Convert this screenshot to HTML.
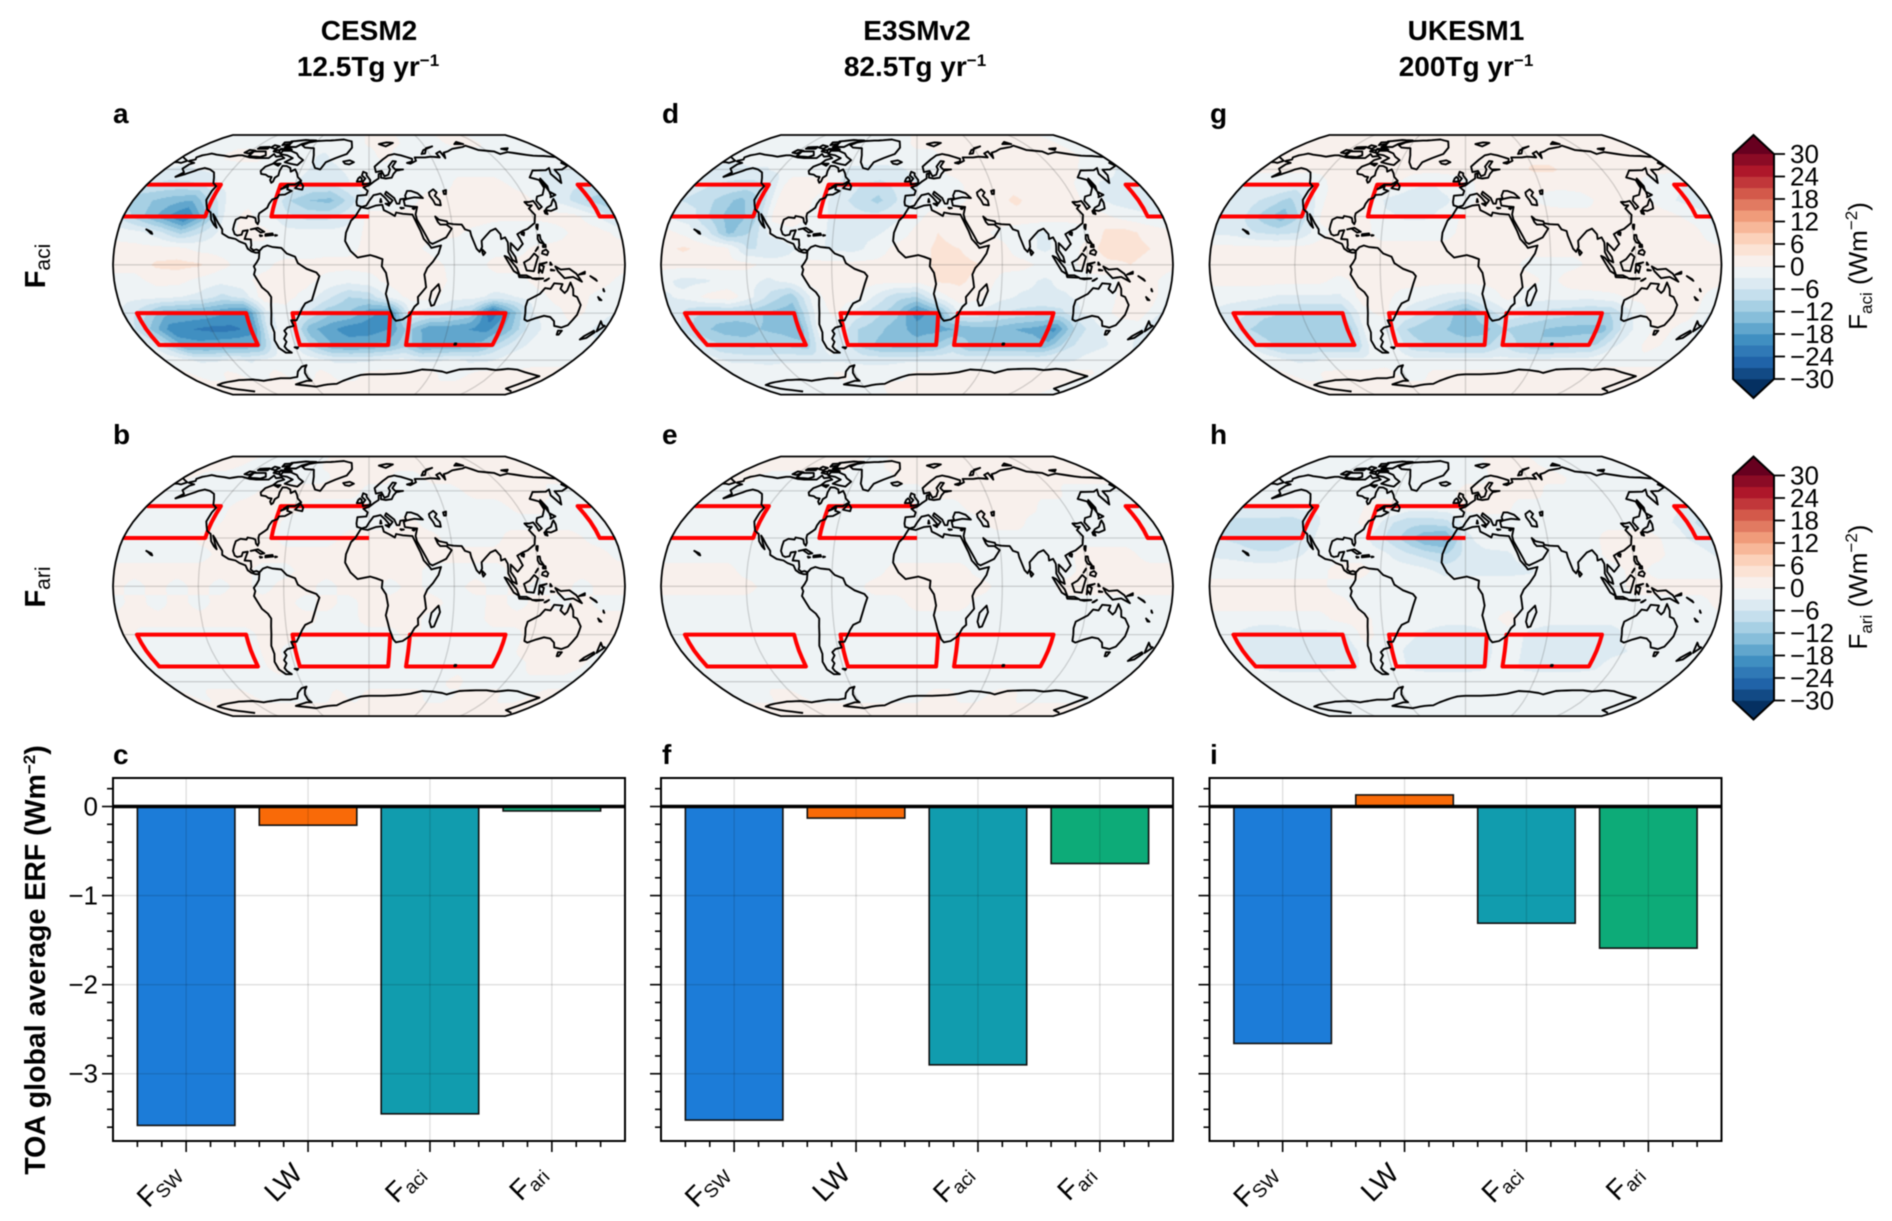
<!DOCTYPE html>
<html lang="en">
<head>
<meta charset="utf-8">
<title>ERF maps and global mean bars</title>
<style>
html,body{margin:0;padding:0;background:#fff;}
#figure{position:relative;width:1892px;height:1221px;overflow:hidden;background:#fff;filter:blur(0.45px);font-family:"Liberation Sans",sans-serif;}
#figure canvas{position:absolute;}
#plot{position:absolute;left:0;top:0;}
text{font-family:"Liberation Sans",sans-serif;fill:#000;}
.title{font-size:28px;font-weight:700;text-anchor:middle;}
.letter{font-size:28px;font-weight:700;}
.rowlab{font-size:29px;font-weight:700;text-anchor:middle;}
.tick{font-size:26px;}
.xlab{font-size:28px;}
.cb{font-size:26px;}
</style>
</head>
<body>
<div id="figure">
<svg id="plot" width="1892" height="1221" viewBox="0 0 1892 1221" xmlns="http://www.w3.org/2000/svg">
  <g>
    <text class="title" x="369" y="40">CESM2</text>
    <text class="title" x="368" y="76">12.5Tg yr<tspan dy="-10" font-size="17">−1</tspan></text>
    <text class="title" x="917" y="40">E3SMv2</text>
    <text class="title" x="915" y="76">82.5Tg yr<tspan dy="-10" font-size="17">−1</tspan></text>
    <text class="title" x="1466" y="40">UKESM1</text>
    <text class="title" x="1466" y="76">200Tg yr<tspan dy="-10" font-size="17">−1</tspan></text>
  </g>
  <g>
    <text class="rowlab" transform="translate(45,266) rotate(-90)">F<tspan dy="5" font-size="21" font-weight="400">aci</tspan></text>
    <text class="rowlab" transform="translate(45,587) rotate(-90)">F<tspan dy="5" font-size="21" font-weight="400">ari</tspan></text>
    <text class="rowlab" style="font-size:28.5px" transform="translate(45,960) rotate(-90)">TOA global average ERF (Wm<tspan dy="-10" font-size="17">−2</tspan><tspan dy="10">)</tspan></text>
  </g>
  <g>
    <text class="letter" x="113" y="123">a</text>
    <text class="letter" x="113" y="444">b</text>
    <text class="letter" x="113" y="764">c</text>
    <text class="letter" x="662" y="123">d</text>
    <text class="letter" x="662" y="444">e</text>
    <text class="letter" x="662" y="764">f</text>
    <text class="letter" x="1210" y="123">g</text>
    <text class="letter" x="1210" y="444">h</text>
    <text class="letter" x="1210" y="764">i</text>
  </g>
  <g>
    <text class="tick" text-anchor="middle" transform="translate(1867,266) rotate(-90)">F<tspan dy="5" font-size="17">aci</tspan><tspan dy="-5"> (Wm</tspan><tspan dy="-10" font-size="17">−2</tspan><tspan dy="10">)</tspan></text>
    <text class="tick" text-anchor="middle" transform="translate(1867,587) rotate(-90)">F<tspan dy="5" font-size="17">ari</tspan><tspan dy="-5"> (Wm</tspan><tspan dy="-10" font-size="17">−2</tspan><tspan dy="10">)</tspan></text>
  </g>
</svg>
</div>
<script>
// ---------- BAR DATA ----------
const categories = ['FSW','LW','Faci','Fari'];
const cesm2Erf = [-3.58,-0.21,-3.45,-0.05];
const e3smErf = [-3.52,-0.13,-2.90,-0.64];
const ukesmErf = [-2.66,0.13,-1.31,-1.59];
const yTickValues = [0,-1,-2,-3];
const barColors = ['#1c7cd8','#f96a08','#119cae','#0dab78'];

// ---------- COLORBAR DATA ----------
const colorLevels = [-30,-27,-24,-21,-18,-15,-12,-9,-6,-3,0,3,6,9,12,15,18,21,24,27,30];
const colorbarTicks = [30,24,18,12,6,0,-6,-12,-18,-24,-30];

// ---------- MAP FIELDS (W m-2) rows lat 80..-80 by 10, columns lon -180..165 by 15 ----------
const faciCesm2 = [
[-1,-1,-1,-1,-1,-1,-1,-1,-1,-1,-1,-1,0.5,0.5,0.5,-1,-1,-1,0.5,0.5,0.5,-1,-1,-1],
[-2,-2,-1,1,1,1,-1,-1,-2,-3.5,-2,-1,-1,1,-1,-1,-2,-2,-1,-1,-1,-1,-2,-2],
[-3,-3.5,-3,-2,-1,-1,-1,-1,-2,-4,-3.5,-2,-1,-1,-1,-2,-1,-1,-1,-1,-2,-2,-3,-3],
[-6,-7,-7,-6,-2,-1,-1,-1,-3,-6,-6,-3,-1,-1,-2,-1,-1,1,1,1,-1,-2,-4,-5],
[-11,-12,-14,-15,-8,-1,-1,-2,-9,-12,-13,-8,-2,-2,-1,1,1,2,2,2,1,-2,-5,-9],
[-7,-12,-17,-22,-13,-2,1,-2,-5,-7,-7,-4,1,1,1,1,2,2,1,1,1,1,1,-2],
[-1,-2,-5,-10,-6,-2,1,1,-2,-2,-2,-2,1,1,1,1,1,-1,-2,-3,-3,-1,1,1],
[1,1,1,1,-1,-1,-1,-1,-2,-2,-1,-1,1,1,1,-1,-2,-1,-1,-1,1,1,1,1],
[1,1,3.5,4,3.5,1,-1,-1,1,1,1,1,1,1,3,1,-1,-1,1,1,1,1,1,1],
[-1,-1,1,1,-1,-2,-1,1,1,1,-1,-2,-1,1,3,2,-1,-1,-1,-1,1,1,1,1],
[-2,-2,-2,-3,-4,-7,-5,2,1,-1,-5,-9,-8,-2,1,1,-2,-2,-4,-3,-1,1,1,-1],
[-3,-8,-14,-15,-16,-18,-20,-4,-1,-6,-11,-12,-17,-20,-3,-5,-7,-10,-24,-14,-3,-1,1,-1],
[-5,-13,-20,-21,-22,-22,-20,-3,-3,-14,-17,-20,-20,-18,-11,-17,-17,-18,-19,-14,-6,-2,-1,-2],
[-2,-8,-16,-17,-16,-15,-14,-3,-3,-10,-15,-16,-15,-14,-10,-16,-15,-15,-14,-8,-4,-2,-1,-1],
[-1,-2,-3.5,-3.5,-2,-3.5,-2,-1,-1,-2,-3.5,-3.5,-3.5,-2,-2,-3.5,-3.5,-2,-3.5,-3.5,-2,-2,-1,-1],
[1,-1,-1,1,-1,-1,1,-1,-1,1,-1,-1,1,1,1,1,1,-1,-1,1,1,1,1,1],
[1,1,1,1,1,1,1,1,1,1,1,1,1,1,1,1,1,1,1,1,1,1,1,1]
];
const fariCesm2 = [
[1,1,1,-1,-1,-1,-1,-1,-1,1,1,1,1,1,1,1,1,1,1,1,1,1,1,1],
[1,-1,-1,-1,-1,-1,-1,-1,-1,-1,1,1,1,1,-1,-1,1,1,1,1,1,1,1,1],
[-1,-1,-1,-1,-1,-1,1,1,1,1,1,1,-1,-1,-1,-1,-1,-1,1,1,1,1,1,-1],
[-1,-1,-1,-1,-1,1,1,1,1,-1,-1,-1,-1,-1,-1,-1,-1,-1,-1,-1,1,1,-1,-1],
[-1,-1,-1,-1,-1,1,1,1,-1,-1,-1,-1,-1,-1,1,-1,-1,-1,-1,-1,-1,-1,-1,-1],
[-1,-1,-1,-1,1,1,1,1,-1,-1,-1,1,1,1,1,1,-1,-1,-1,1,1,1,1,-1],
[-1,-1,-1,-1,-1,1,1,1,1,1,1,1,1,1,1,1,1,1,1,1,1,1,1,1],
[1,1,1,1,1,1,1,-1,-1,1,1,1,1,1,1,-1,-1,-1,-1,1,1,1,1,1],
[1,-1,1,-1,1,-1,1,-1,1,1,-1,1,1,-1,1,-1,-1,1,-1,1,-1,1,-1,1],
[-1,1,-1,1,-1,1,1,1,1,-1,1,-1,1,1,1,1,-1,-1,1,-1,1,-1,1,-1],
[1,1,1,1,1,1,1,1,1,1,-1,-1,1,1,1,-1,-1,-1,1,1,1,1,1,1],
[1,-1,-1,-1,-1,-1,-1,1,1,-1,-1,-1,-1,-1,1,-1,-1,-1,-1,-1,1,1,1,1],
[-1,-1,-1,-1,-1,-1,-1,1,-1,-1,-1,-1,-1,-1,-1,-1,-1,-1,-1,-1,1,1,1,1],
[-1,-1,-1,-1,-1,-1,-1,1,-1,-1,-1,-1,-1,-1,-1,-1,-1,-1,-1,-1,-1,1,1,1],
[-1,-1,-1,-1,-1,-1,-1,-1,-1,-1,-1,-1,-1,-1,-1,-1,-1,1,-1,-1,-1,-1,-1,-1],
[1,-1,1,1,1,-1,-1,-1,-1,-1,1,-1,1,1,1,1,-1,-1,1,1,1,-1,-1,1],
[1,1,1,1,1,1,1,1,1,1,1,1,1,1,1,1,1,1,1,1,1,1,1,1]
];
const faciE3sm = [
[-1,-1,-1,-1,-1,-1,-1,-1,-1,-1,-1,-1,1,1,1,1,1,1,1,1,1,1,1,-1],
[-2,-2,-1,-1,-1,-1,-1,-1,-1,-2,-2,-1,-1,-1,1,1,1,1,2,1,1,1,1,-1],
[-3.5,-4,-3.5,-3.5,-2,-1,-1,-1,-3.5,-3.5,-3.5,-3.5,-2,-1,1,1,1,2,2,1,1,1,-1,-2],
[-5,-6,-7,-7,-6,1,1,1,-4,-6,-7,-5,-3.5,-1,-1,1,2,2,2,2,1,-1,-3.5,-4],
[-6,-7,-10,-13,-9,1,2,-1,-5,-7,-10,-6,-2,-2,-1,1,2,3.5,2,1,1,-2,-4,-5],
[-3.5,-5,-10,-14,-11,1,2,-1,-4,-5,-5,-3.5,-1,2,2,1,2,2,2,1,1,1,-1,-2],
[1,-1,-5,-13,-9,-2,-1,-2,-3.5,-3.5,-3.5,-2,1,3,2,1,-1,-2,-3.5,-2,-1,3.5,4,2],
[2,3.5,2,1,-6,-6,-3.5,-2,-3.5,-4,-2,1,2,3.5,3,1,1,-2,-3.5,-2,1,5,4,3],
[1,1,1,1,1,-1,-2,1,1,1,1,1,2,3.5,4,3,1,1,-1,-1,1,2,3,2],
[-2,-4,-3.5,-2,-2,-3.5,-2,1,2,2,1,1,1,3.5,3.5,2,-1,-2,-3.5,-2,-1,-1,1,1],
[-3.5,-2,1,2,-2,-7,-11,-2,2,1,-3.5,-8,-9,-2,2,1,-2,-3.5,-3.5,-3.5,-2,-1,1,3],
[-3.5,-8,-10,-10,-11,-13,-14,-3,1,-4,-8,-11,-20,-15,-3,-4,-6,-7,-8,-7,-3,-1,1,1],
[-6,-11,-13,-14,-12,-13,-15,-2,-3.5,-9,-11,-14,-16,-16,-15,-13,-13,-15,-16,-19,-9,-4,-2,-1],
[-3.5,-8,-10,-10,-10,-10,-11,-2,-3.5,-10,-13,-14,-14,-12,-8,-13,-13,-13,-13,-14,-8,-4,-3.5,-2],
[-2,-3.5,-3.5,-4,-3.5,-3.5,-3.5,-3.5,-3.5,-4,-4,-3.5,-3.5,-3.5,-3.5,-3.5,-3.5,-3.5,-3.5,-3.5,-3.5,-3.5,-2,-2],
[-1,-1,-1,-1,-1,-1,-1,1,-1,-1,-1,-1,1,1,1,1,1,1,1,1,1,1,1,1],
[-1,-1,-1,-1,-1,-1,-1,-1,-1,-1,1,1,1,1,1,1,1,1,1,1,1,1,1,-1]
];
const fariE3sm = [
[1,1,1,1,1,1,1,1,-1,-1,1,1,1,1,1,1,1,1,1,1,1,1,1,1],
[1,1,-1,-1,-1,-1,-1,-1,-1,-1,-1,1,1,1,1,1,1,1,1,1,1,1,1,1],
[-1,-1,-1,-1,-1,-1,-1,-1,-1,-1,-1,-1,-1,1,1,1,1,1,1,1,1,-1,-1,-1],
[-1,-1,-1,-1,-1,-1,-1,-1,-1,-1,-1,-1,-1,-1,-1,1,1,1,1,-1,-1,-1,-1,-1],
[-1,-1,-1,-1,-1,-1,-1,-1,-1,-1,-1,-1,-1,-1,-1,-1,1,1,-1,-1,-1,-1,-1,-1],
[-1,-1,-1,-1,-1,-1,-1,-1,-1,-1,-1,-1,-1,-1,-1,-1,-1,-1,-1,-1,-1,-1,-1,-1],
[-1,-1,-1,-1,-1,-1,-1,-1,-1,-1,-1,-1,-1,-1,-1,-1,-1,-1,-1,-1,1,1,1,-1],
[1,1,1,1,-1,-1,-1,-1,-1,-1,-1,1,1,1,1,-1,-1,-1,-1,-1,1,1,1,1],
[1,1,1,1,1,-1,-1,-1,-1,-1,1,1,1,1,1,1,-1,-1,-1,1,1,1,1,1],
[-1,-1,-1,-1,-1,-1,-1,-1,-1,-1,-1,-1,1,1,1,-1,-1,-1,-1,-1,-1,-1,-1,-1],
[-1,-1,-1,-1,-1,-1,-1,-1,-1,-1,-1,-1,-1,-1,-1,-1,-1,-1,-1,-1,-1,-1,-1,-1],
[-1,-1,-1,-1,-1,-1,-1,-1,-1,-1,-1,-1,-1,-1,-1,-1,-1,-1,-1,-1,-1,-1,-1,-1],
[-1,-1,-1,-1,-1,-1,-1,-1,-1,-1,-1,-1,-1,-1,-1,-1,-1,-1,-1,-1,-1,-1,-1,-1],
[-1,-1,-1,-1,-1,-1,-1,-1,-1,-1,-1,-1,-1,-1,-1,-1,-1,-1,-1,-1,-1,-1,-1,-1],
[-1,-1,-1,-1,-1,-1,-1,-1,-1,-1,-1,-1,-1,-1,-1,-1,-1,-1,-1,-1,-1,-1,-1,-1],
[-1,-1,-1,1,1,-1,-1,-1,-1,-1,-1,-1,-1,1,1,-1,-1,1,1,-1,-1,-1,-1,-1],
[1,1,1,1,1,1,1,1,1,1,1,1,1,1,1,1,1,1,1,1,1,1,1,1]
];
const faciUkesm = [
[1,1,1,1,1,1,1,1,1,1,1,1,1,1,1,1,1,1,1,1,1,1,1,1],
[1,1,1,1,1,1,1,1,1,1,1,1,1,1,2,2,2,2,1,1,1,1,1,1],
[1,1,1,1,1,1,1,1,1,1,1,1,1,1,1,2,3.5,3.5,2,1,1,1,1,1],
[-3.5,-3.5,-3.5,-4,-1,1,1,1,1,-2,-3.5,-2,-1,1,1,1,1,1,1,1,1,1,-1,-2],
[-4,-5,-7,-10,-5,1,1,1,-4,-5,-4,-3.5,-1,1,1,1,-1,-2,-1,1,1,1,-2,-3.5],
[-3.5,-5,-10,-14,-8,1,1,1,-2,-3.5,-3.5,-2,1,1,1,2,2,2,1,1,2,2,1,-1],
[-3.5,-4,-6,-7,-6,-1,1,1,-1,-1,-1,-1,1,1,1,1,2,2,2,1,2,2,2,1],
[1,1,1,1,1,1,1,1,1,1,1,1,1,1,1,1,1,1,1,2,2,2,2,1],
[1,1,2,2,2,2,2,1,1,1,1,1,1,1,1,-1,-1,-1,1,1,2,2,2,1],
[1,1,1,1,1,1,-1,1,1,1,1,1,1,1,1,1,-1,2,3,3,2,2,1,1],
[-2,-2,-2,-3.5,-3.5,-3.5,-3.5,1,1,-1,-2,-4,-5,-2,1,-2,-2,-2,-2,-1,1,1,1,1],
[-3.5,-5,-8,-9,-9,-9,-9,-1,1,-3.5,-7,-10,-15,-8,-3.5,-5,-7,-8,-9,-9,-3.5,1,1,1],
[-4,-9,-11,-11,-11,-11,-11,-1,-3.5,-9,-11,-12,-14,-13,-9,-11,-12,-13,-13,-13,-5,-1,1,-1],
[-2,-7,-10,-10,-9,-9,-9,-1,-2,-8,-9,-10,-10,-10,-6,-10,-12,-11,-10,-9,-3.5,-1,1,-1],
[-1,-2,-3.5,-3.5,-2,-2,-2,-1,-1,-2,-2,-2,-2,-2,-2,-2,-2,-2,-2,-2,-1,-1,-1,-1],
[1,-1,-1,1,1,1,1,1,-1,-1,1,1,1,1,1,1,1,1,1,1,1,1,1,1],
[1,1,1,1,1,1,1,1,1,1,1,1,1,1,1,1,1,1,1,1,1,1,1,1]
];
const fariUkesm = [
[-1,-1,-1,-1,-1,-1,-1,-1,-1,-1,-1,-1,-1,-1,1,1,1,1,-1,-1,-1,-1,-1,-1],
[-1,-1,-1,-1,-1,-1,-1,-1,-1,-1,-1,-1,-1,-1,1,1,1,1,1,-1,-1,-1,-1,-1],
[-1,-1,-1,-1,-1,-1,-1,-1,-1,-1,-1,-1,1,1,1,1,1,-1,-1,-1,-1,-1,-1,-1],
[-3.5,-3.5,-3.5,-2,-1,-1,-1,1,1,-1,-1,-1,1,1,1,-1,-1,-1,-1,-1,-1,-1,-1,-2],
[-7,-7,-7,-8,-6,-1,-1,1,-5,-8,-8,-7,-2,-1,-1,-1,-1,-1,-1,-1,-1,-1,-2,-4],
[-6,-7,-9,-9,-6,-1,-1,-2,-6,-10,-15,-16,-4,-1,-1,-1,-1,-1,-1,1,1,1,-1,-3.5],
[-3.5,-4,-5,-5,-3.5,-1,-1,-1,-2,-5,-7,-9,-5,-4,-3.5,-1,-1,-1,-1,1,1,1,-1,-1],
[-1,-1,-1,-1,-1,-1,1,1,-1,-1,-2,-4,-4,-4,-4,-3.5,-1,-1,-1,-1,1,-1,-1,-1],
[1,1,1,1,1,1,-1,-1,-1,-1,-1,-1,-1,-1,-1,-1,-1,-1,-1,-1,1,1,1,1],
[1,1,1,1,1,1,1,-1,-1,-1,-1,-1,-1,-1,-1,-1,-1,-1,-1,-1,-1,-1,-1,-1],
[-1,-1,-1,-1,-1,-1,1,1,-1,-1,-1,-1,-1,-1,1,-1,-1,-1,-1,-1,-1,-1,-1,-1],
[-1,-3.5,-6,-6,-4,-4,-4,1,-1,-2,-3.5,-6,-6,-3.5,-1,-3.5,-6,-6,-6,-6,-1,-1,-1,-1],
[-1,-4,-5,-5,-5,-5,-5,-1,-1,-3.5,-5,-5,-5,-4,-1,-3.5,-5,-5,-5,-4,-3.5,-1,-1,-1],
[-1,-3.5,-4,-4,-4,-3.5,-3.5,-1,-1,-3.5,-4,-4,-4,-3.5,-1,-3.5,-4,-4,-4,-3.5,-1,-1,-1,-1],
[-1,-1,-1,-1,-1,-1,-1,-1,-1,-1,-1,-1,-1,-1,-1,-1,-1,-1,-1,-1,-1,-1,-1,-1],
[-1,-1,-1,-1,-1,-1,-1,-1,-1,-1,-1,-1,-1,-1,-1,-1,-1,-1,-1,-1,-1,-1,-1,-1],
[-1,-1,-1,-1,-1,-1,-1,-1,-1,-1,-1,-1,-1,-1,-1,-1,-1,-1,-1,-1,-1,-1,-1,-1]
];

// ---------- REGION OUTLINES (lon, lat) ----------
const regionNorthPacificWest = [[-181,50],[-120,50],[-120,30],[-181,30]];
const regionNorthPacificEast = [[181,50],[169,50],[169,30],[181,30]];
const regionNorthAtlantic = [[0,50],[-71.5,50],[-71.5,30],[0,30]];
const regionSouthPacific = [[-170,-30],[-90,-30],[-90,-50],[-170,-50]];
const regionSouthAtlantic = [[-56,-30],[15.5,-30],[15.5,-50],[-56,-50]];
const regionSouthIndian = [[30,-30],[100,-30],[100,-50],[30,-50]];

// ---------- COASTLINES (lon, lat) ----------
const coastNorthAmerica=[[-168,66],[-164,67],[-166,68.5],[-163,70],[-156.5,71.3],[-150,70.5],[-141,69.7],[-135,69],[-128,70],[-124,70],[-115,68.5],[-108,68],[-102,68],[-96,68],[-94,71],[-90,69],[-85,69.5],[-81,68],[-86,66.5],[-88,64],[-93,62],[-94.5,59],[-92.5,57],[-88,56.5],[-85,55.3],[-82,55],[-82,53],[-80,51.2],[-79,52],[-79,54.5],[-77,56],[-78,59],[-78,62.5],[-74,62.3],[-70,61],[-68,58.5],[-65,60],[-62,57.5],[-60,55],[-56,52.5],[-60,50],[-66,50],[-70,47],[-65,49],[-65,47],[-61,46],[-65.5,43.7],[-70,43.5],[-70.5,41.7],[-74,40.6],[-75.5,38],[-76,35.5],[-78,34],[-81,32],[-81,30],[-80,27],[-80.5,25.2],[-82,26.5],[-83,29],[-85,29.7],[-89,30.3],[-89.5,29],[-94,29.5],[-97,28],[-97.5,25],[-97.7,22],[-96,19],[-94,18.2],[-91,18.7],[-90.5,21],[-87,21.5],[-88,18],[-88.5,16],[-84,15.8],[-83.3,12],[-83.7,10.5],[-81.5,9],[-79.5,9.5],[-77.3,8.7],[-78,7.5],[-80,7.5],[-83,8.3],[-85.7,10],[-87.5,13],[-92,14.5],[-95,16],[-100,17],[-105,19.5],[-105.5,22],[-109,25.7],[-112.5,29.5],[-114.7,31.5],[-112,27],[-109.7,23],[-112,24.8],[-115,28],[-117,32.5],[-120.5,34.5],[-122.5,37.5],[-124.3,40.3],[-124,46],[-123,49],[-127,51],[-130,54.5],[-134,58],[-140,60],[-146,61],[-150,60],[-152,59],[-157,57],[-163,55],[-160,58],[-165,60.5],[-164,63.5],[-161,64.5],[-168,65.7]];
const coastSouthAmerica=[[-77.3,8.7],[-75,11],[-72,12],[-68,11],[-62,10.5],[-58,7],[-52,5],[-50,1],[-44,-2.5],[-37,-4.8],[-35,-7],[-37,-12],[-39,-17],[-41,-22],[-46,-24],[-48.5,-27],[-52,-32],[-54,-34.5],[-58,-34.5],[-57,-38],[-62,-39],[-65,-41],[-64,-43],[-67,-46],[-66,-48],[-69,-51],[-68,-53],[-65,-55],[-70,-55],[-74,-52],[-75,-47],[-73,-42],[-73.5,-37],[-71.5,-30],[-70,-20],[-72,-17],[-76,-14],[-81,-6],[-80,-3],[-81,-1],[-79,1.5],[-77.5,4]];
const coastAfrica=[[-6,35.8],[-1,35],[5,36.8],[10,37.3],[11,34],[15,32.3],[19,30.3],[20,32.5],[25,31.7],[32,31.2],[32.5,30],[34,27],[35.5,24],[37,21],[39,16],[43,12],[44,10.5],[51,12],[49,7],[45,2],[41,-2],[39,-6],[40.5,-14],[35,-20],[35.5,-24],[33,-26],[30,-31],[25,-34],[20,-34.8],[18,-33],[15,-27],[12,-18],[13.5,-12],[12,-5],[9,-1],[9.5,3.5],[5,5],[1,6],[-4,5.2],[-8,4.5],[-13,8.5],[-17,14.7],[-16.5,20],[-13,27.5],[-10,30]];
const coastEurasia=[[-9,37],[-9.5,39],[-9,43],[-2,43.5],[-1,46],[-4.5,48.3],[0,49.5],[4,52],[8,54],[8.3,57],[10.5,57.5],[10,54.5],[14,54],[19,54.5],[21,57],[24,59.3],[30,60],[23,60],[21,62],[25,65.5],[22,65.8],[17.5,62],[18.5,60],[16.5,56.5],[13,55.5],[11,59],[6,58.2],[5,62],[13,67],[19,70],[25,71],[31,70],[41,67.5],[40,65.5],[35,64.5],[38,64],[44,66],[44,68.5],[54,68.5],[60,69],[68,68.5],[67,71.5],[72,73],[73,68],[75,72],[80,73],[87,75],[100,76.5],[105,77.7],[113,74],[127,73],[130,71],[140,72.5],[150,71],[160,69.7],[170,69.5],[180,68.7],[180,65.5],[177,64.5],[179,62.5],[170,60],[163,59.8],[162,56],[157,51],[155.7,57],[160,61],[155,59.5],[143,59.3],[135,54.7],[141,53],[140,48],[135,43.5],[130,42.5],[127.5,39.7],[129.5,36],[126.5,34.5],[126,37.5],[125,39.7],[121.5,39],[118,39],[119.5,37],[122.5,37],[119.3,35],[122,31],[120,26],[114,22.3],[110,21],[106,19],[109,13],[105,9],[103,11],[100.5,13.5],[100,9],[103,5],[104,1.5],[101,3],[98.3,8],[98.5,14],[97,17],[94,16],[94,19],[91,22.5],[87,21],[80,15],[80,11],[78,8],[76,10],[73,18],[72.5,21],[69,22],[67,25],[61,25.2],[57,25.8],[56.5,27],[51,28],[48.5,30],[50,26.5],[51.5,25],[56,25],[59.5,22.5],[55,17],[45,13],[43,14],[39,21],[35,28],[34.3,31.3],[36,36],[32,36.2],[27,36.8],[26.5,40],[29,41],[35,42],[41.5,41.5],[38,44.5],[33,46],[30,46],[28,43],[28.5,41.2],[24,40.8],[23,38],[21,38],[19.5,41.5],[13.5,45.5],[12.5,44],[18,40],[16,38],[12,42],[9,44.3],[3.5,43.3],[0,39.5],[-2,36.8],[-5.5,36]];
const coastGreenland=[[-73,78],[-68,80.5],[-60,82],[-45,82.5],[-30,83.5],[-20,81.5],[-18,76],[-22,71],[-32,68],[-40,65],[-43,60],[-48,61],[-52,65],[-54,70],[-58,75.5],[-68,76]];
const coastBaffin=[[-80,73.5],[-72,71.5],[-68,69],[-62,66.5],[-65,63],[-72,64],[-78,65],[-73,68],[-80,70],[-88,71],[-88,73.5]];
const coastVictoria=[[-105,73],[-117,73],[-117,69.5],[-105,68.7],[-101,70]];
const coastEllesmere=[[-90,76.5],[-78,76.5],[-75,79],[-62,82.5],[-75,83],[-90,81.5],[-87,78]];
const coastBanks=[[-125,72],[-123,74.2],[-116,73.5],[-120,71.5]];
const coastDevon=[[-92,75],[-82,75],[-80,74.5],[-92,74.5]];
const coastMelville=[[-116,75],[-106,75],[-106,76.5],[-116,76.3]];
const coastAxelHeiberg=[[-95,78],[-88,79],[-88,81],[-96,80.5]];
const coastBathurst=[[-104,76],[-98,75],[-96,77],[-103,78]];
const coastSomerset=[[-97,73],[-90,72],[-92,74],[-97,74]];
const coastNewfoundland=[[-59,47.7],[-53,46.8],[-53,49],[-56,51.5]];
const coastSouthampton=[[-87,64],[-81,64],[-82,62.5]];
const coastBritain=[[-5,50],[1,51],[1,53],[-2,56],[-2,57.5],[-5,58.5],[-6,56],[-3,54],[-5,52]];
const coastIreland=[[-6,52],[-10,52],[-9,54],[-7.5,55],[-6,54]];
const coastIceland=[[-22,64],[-24,65.5],[-18,66.4],[-14,65],[-18,63.5]];
const coastSvalbard=[[11,79],[20,80.5],[27,80],[18,77]];
const coastNovayaZemlya=[[52,71],[56,74],[68,77],[60,75.5],[56,71.5]];
const coastSevernaya=[[95,79],[105,79],[100,81]];
const coastNewSiberian=[[138,75],[146,75.5],[142,74]];
const coastCaspian=[[47,45],[51,47],[53,45],[51,43],[54,40],[54,37],[50,37.5],[49,40],[47,43]];
const coastAral=[[58.5,46],[61,46.5],[60,44],[58.5,44]];
const coastHonshu=[[131,34],[135,33.5],[140,35],[141.5,38.5],[141.5,41],[140,40],[137,37],[133,35.5]];
const coastHokkaido=[[140,42],[145,43.5],[142,45.5],[141,43]];
const coastKyushu=[[130,32],[131.5,31.5],[131.5,33.5],[130,33.5]];
const coastSakhalin=[[142,46],[143.5,49],[143,54],[142,53]];
const coastTaiwan=[[120.5,23],[121,22],[122,25],[121,25]];
const coastHainan=[[109,19],[110.5,18.3],[111,20],[109.5,20]];
const coastSriLanka=[[80,9.5],[82,7.5],[80.5,6],[80,7.5]];
const coastLuzon=[[120.5,18.5],[122,18.5],[122,16],[124,13],[121,14],[120,16]];
const coastMindanao=[[122,7],[125.5,6],[126.5,8],[125,9.5],[122.5,8.5]];
const coastVisayas=[[123,11],[125,11],[125,12.5],[123,12]];
const coastPalawan=[[117.5,8.5],[119.5,11],[119,10]];
const coastSumatra=[[95.5,5.5],[98,4.5],[104,-2],[106,-6],[102,-4],[98.5,1]];
const coastJava=[[105.5,-6.5],[111,-6.5],[114.5,-8],[106,-7.7]];
const coastBorneo=[[109,1.5],[113,3.5],[116.5,7],[119,5],[117.5,1],[116,-4],[111,-3.5]];
const coastSulawesi=[[119.5,-5],[120,0.5],[125,1.5],[120.5,0],[123,-1],[122,-5],[120.5,-3]];
const coastNewGuinea=[[131,-1],[135,-3],[141,-2.5],[146,-5.5],[150.5,-10.5],[144,-7.5],[138,-8.3],[133,-4]];
const coastNewBritain=[[148,-6],[152,-4.3],[152,-5.5]];
const coastTimor=[[124,-10],[127,-8.5],[125,-9.8]];
const coastFlores=[[115,-8.5],[120,-8.5],[123,-8.5],[118,-9]];
const coastSeram=[[128,-3],[130.5,-3.5],[128,-3.5]];
const coastHalmahera=[[127.5,1.5],[128.5,0],[127.5,0]];
const coastSolomon=[[156,-7],[160,-9],[161,-10]];
const coastVanuatu=[[166.5,-15],[167.5,-16.5],[166.8,-16]];
const coastCaledonia=[[164,-20],[167,-22],[165.5,-21.8]];
const coastAustralia=[[114,-22],[113.5,-26],[115.5,-34],[118,-35],[124,-33],[129,-31.7],[134,-32.5],[138,-35],[140,-38],[146,-39],[150,-37.5],[153,-31],[153,-25],[149,-20],[146,-19],[145,-15],[142.5,-11],[141,-16],[139.5,-17.5],[136,-15],[137,-12],[131,-11.5],[129,-15],[125,-14.5],[122,-18],[117,-20.5]];
const coastTasmania=[[145,-41],[148,-41],[147.5,-43.5],[146,-43.5]];
const coastNzNorth=[[173,-35],[176,-37.5],[178.3,-38],[175,-41.5],[174,-39]];
const coastNzSouth=[[172.5,-41],[174,-42],[171,-45.5],[167,-46.5],[168,-44.5]];
const coastMadagascar=[[49.3,-12],[50.5,-16],[47,-25],[45,-25.5],[43.5,-22],[44.5,-16.5]];
const coastCuba=[[-85,22],[-80,23],[-75,20.5],[-77.5,20],[-82,22.5]];
const coastHispaniola=[[-74,19],[-69,19.5],[-68.5,18.5],[-74,18]];
const coastJamaica=[[-78,18.4],[-76.3,18],[-77.5,17.8]];
const coastPuertoRico=[[-67,18.5],[-65.7,18.3],[-67,18]];
const coastHawaii=[[-160,22],[-156,20.5],[-155,19.2],[-156,19.5],[-159,21.5]];
const coastFalklands=[[-61,-51.5],[-58,-51.5],[-59,-52.3]];
const coastKerguelen=[[69,-49],[70.3,-49],[70.3,-49.8],[69,-49.8]];
const coastSardinia=[[9,41],[9.5,39],[8.5,39]];
const coastSicily=[[12.5,38],[15.5,38],[15,36.7]];
const coastCrete=[[23.5,35.5],[26,35.2],[24,35]];
const coastCyprus=[[32.5,35],[34.5,35.5],[33.5,34.6]];
const coastAntarctica=[[-140,-85],[-160,-82],[-167,-78.5],[-158,-77],[-150,-76],[-135,-74.5],[-120,-74],[-110,-75],[-100,-74],[-90,-73],[-80,-73],[-72,-72],[-68,-68],[-62,-64.5],[-57,-63.5],[-60,-66],[-62,-69],[-62,-73],[-60,-75],[-65,-75],[-80,-78],[-60,-80],[-45,-78],[-35,-77.5],[-27,-75],[-15,-72],[-8,-70.5],[0,-70],[15,-70],[30,-69.5],[40,-68.5],[50,-66.5],[60,-67],[70,-68],[75,-69],[85,-66.5],[100,-66],[110,-66],[120,-67],[130,-66],[140,-66.7],[150,-68.5],[160,-70],[170,-71.5],[165,-75],[163,-78],[160,-82],[175,-85]];
const coastChukotka=[[-180,69],[-175,67.5],[-170,66],[-173,64.5],[-177,65],[-180,65]];

const closedCoasts=[coastNorthAmerica,coastSouthAmerica,coastAfrica,coastEurasia,coastGreenland,coastBaffin,coastVictoria,coastEllesmere,coastBanks,coastDevon,coastMelville,coastAxelHeiberg,coastBathurst,coastSomerset,coastNewfoundland,coastSouthampton,coastBritain,coastIreland,coastIceland,coastSvalbard,coastNovayaZemlya,coastSevernaya,coastNewSiberian,coastCaspian,coastAral,coastHonshu,coastHokkaido,coastKyushu,coastSakhalin,coastTaiwan,coastHainan,coastSriLanka,coastLuzon,coastMindanao,coastVisayas,coastPalawan,coastSumatra,coastJava,coastBorneo,coastSulawesi,coastNewGuinea,coastNewBritain,coastTimor,coastFlores,coastSeram,coastHalmahera,coastSolomon,coastVanuatu,coastCaledonia,coastAustralia,coastTasmania,coastNzNorth,coastNzSouth,coastMadagascar,coastCuba,coastHispaniola,coastJamaica,coastPuertoRico,coastHawaii,coastFalklands,coastKerguelen,coastSardinia,coastSicily,coastCrete,coastCyprus];
const openCoasts=[coastAntarctica,coastChukotka];

// ---------- HELPERS ----------
const SVGNS='http://www.w3.org/2000/svg';
const svg=document.getElementById('plot');
const figure=document.getElementById('figure');
function mk(tag,parent,attrs){
  const el=document.createElementNS(SVGNS,tag);
  for(const k in attrs) el.setAttribute(k,attrs[k]);
  parent.appendChild(el);
  return el;
}

// Colormap: RdBu_r
const rdbu=[[5,48,97],[33,102,172],[67,147,195],[146,197,222],[209,229,240],[247,247,247],[253,219,199],[244,165,130],[214,96,77],[178,24,43],[103,0,31]];
function cmap(t){
  const p=Math.min(9.9999,Math.max(0,t*10)),i=Math.floor(p),f=p-i;
  return rdbu[i].map((c,k)=>Math.round(c+(rdbu[i+1][k]-c)*f));
}
function levelIndex(v){
  let i=0;
  while(i<colorLevels.length && v>=colorLevels[i]) i++;
  return i;
}
function levelColor(i){ return cmap(i/colorLevels.length); }
function css(c){ return 'rgb('+c.join(',')+')'; }

// Robinson projection
const PLEN=[1,0.9986,0.9954,0.99,0.9822,0.973,0.96,0.9427,0.9216,0.8962,0.8679,0.835,0.7986,0.7597,0.7186,0.6732,0.6213,0.5722,0.5322];
const PDFE=[0,0.062,0.124,0.186,0.248,0.31,0.372,0.434,0.4958,0.5571,0.6176,0.6769,0.7346,0.7903,0.8435,0.8936,0.9394,0.9761,1];
function tab(arr,lat){
  const t=Math.min(17.9999,Math.abs(lat)/5),i=Math.floor(t);
  return arr[i]+(arr[i+1]-arr[i])*(t-i);
}
const MAPW=512,MAPH=259.6;
function projector(left,top){
  return function(lon,lat){
    const l=Math.max(-180,Math.min(180,lon));
    return [left+MAPW/2+MAPW/2*tab(PLEN,lat)*l/180,
            top+MAPH/2-(lat<0?-1:1)*MAPH/2*tab(PDFE,lat)];
  };
}
function latFromNorm(n){
  const a=Math.abs(n);
  let i=0;
  while(i<17 && PDFE[i+1]<a) i++;
  const lat=5*(i+(a-PDFE[i])/(PDFE[i+1]-PDFE[i]));
  return n<0?-lat:lat;
}
function sampleField(field,lon,lat){
  const fr=Math.max(0,Math.min(field.length-1.0001,(80-lat)/10));
  const r=Math.floor(fr),rf=fr-r;
  const fc=((lon+180)/15)%24,c=Math.floor(fc),cf=fc-c,c2=(c+1)%24;
  const top=field[r][c]*(1-cf)+field[r][c2]*cf;
  const bot=field[r+1][c]*(1-cf)+field[r+1][c2]*cf;
  return top*(1-rf)+bot*rf;
}
function drawField(canvas,field){
  const w=MAPW,h=Math.ceil(MAPH);
  canvas.width=w;canvas.height=h;
  const ctx=canvas.getContext('2d');
  const img=ctx.createImageData(w,h);
  const d=img.data;
  for(let y=0;y<h;y++){
    const n=(MAPH/2-y-0.5)/(MAPH/2);
    if(Math.abs(n)>1) continue;
    const lat=latFromNorm(n),pl=tab(PLEN,lat);
    for(let x=0;x<w;x++){
      const m=(x+0.5-w/2)/(w/2)/pl;
      if(Math.abs(m)>1) continue;
      const v=sampleField(field,m*180,lat);
      const col=levelColor(levelIndex(v));
      const o=(y*w+x)*4;
      d[o]=col[0];d[o+1]=col[1];d[o+2]=col[2];d[o+3]=255;
    }
  }
  ctx.putImageData(img,0,0);
}
// Geographic polyline: straight-in-lon/lat segments are densified so edges follow the projection
function pathOf(pts,proj,close){
  const dense=[];
  const seq=close?pts.concat([pts[0]]):pts;
  seq.forEach(function(p,i){
    if(i===0){dense.push(p);return;}
    const a=seq[i-1];
    const span=Math.max(Math.abs(p[0]-a[0]),Math.abs(p[1]-a[1]));
    const n=Math.max(1,Math.ceil(span/5));
    for(let k=1;k<=n;k++) dense.push([a[0]+(p[0]-a[0])*k/n,a[1]+(p[1]-a[1])*k/n]);
  });
  return dense.map((p,i)=>{const q=proj(p[0],p[1]);return (i?'L':'M')+q[0].toFixed(1)+' '+q[1].toFixed(1);}).join('')+(close?'Z':'');
}
function outlinePath(proj){
  const pts=[];
  for(let la=90;la>=-90;la-=5) pts.push(proj(180,la));
  for(let la=-90;la<=90;la+=5) pts.push(proj(-180,la));
  return pts.map((q,i)=>(i?'L':'M')+q[0].toFixed(1)+' '+q[1].toFixed(1)).join('')+'Z';
}

// ---------- MAP PANELS ----------
const colLeft=[113,661,1209.5];
const rowTop=[135,456.5];
const mapPanels=[
  {letter:'a',field:faciCesm2,col:0,row:0},
  {letter:'b',field:fariCesm2,col:0,row:1},
  {letter:'d',field:faciE3sm,col:1,row:0},
  {letter:'e',field:fariE3sm,col:1,row:1},
  {letter:'g',field:faciUkesm,col:2,row:0},
  {letter:'h',field:fariUkesm,col:2,row:1}
];
const regions=[regionNorthPacificWest,regionNorthPacificEast,regionNorthAtlantic];
const closedRegions=[regionSouthPacific,regionSouthAtlantic,regionSouthIndian];
const meridians=[-120,-60,0,60,120];
const parallels=[-60,-30,0,30,60];

mapPanels.forEach(function(p){
  const left=colLeft[p.col],top=rowTop[p.row];
  const proj=projector(left,top);
  const cv=document.createElement('canvas');
  
  
  cv.style.left=left+'px';cv.style.top=top+'px';
  figure.insertBefore(cv,svg);
  drawField(cv,p.field);

  const g=mk('g',svg,{});
  
  
  const clip=mk('clipPath',g,{id:'clip-'+p.letter});
  mk('path',clip,{d:outlinePath(proj)});
  const inner=mk('g',g,{'clip-path':'url(#clip-'+p.letter+')'});

  const grid=mk('g',inner,{fill:'none',stroke:'rgba(60,60,60,0.2)','stroke-width':'1.3'});
  
  
  meridians.forEach(function(lon){
    const pts=[];
    for(let la=-90;la<=90;la+=5) pts.push([lon,la]);
    const l=mk('path',grid,{d:pathOf(pts,proj,false)});
    
    
  });
  parallels.forEach(function(lat){
    const l=mk('path',grid,{d:pathOf([[-180,lat],[180,lat]],proj,false)});
    
    
  });

  const red=mk('g',inner,{fill:'none',stroke:'#ff0000','stroke-width':'4','stroke-linejoin':'round','stroke-linecap':'butt'});
  
  
  regions.forEach(function(r){
    const l=mk('path',red,{d:pathOf(r,proj,false)});
    
    
  });
  closedRegions.forEach(function(r){
    const l=mk('path',red,{d:pathOf(r,proj,true)});
    
    
  });

  const coast=mk('g',inner,{fill:'none',stroke:'#000','stroke-width':'1.9','stroke-linejoin':'round'});
  
  
  let dClosed='';
  closedCoasts.forEach(function(c){dClosed+=pathOf(c,proj,true);});
  openCoasts.forEach(function(c){dClosed+=pathOf(c,proj,false);});
  const cp=mk('path',coast,{d:dClosed});
  
  

  const ol=mk('path',g,{d:outlinePath(proj),fill:'none',stroke:'#000','stroke-width':'1.8'});
  
  
});

// ---------- COLORBARS ----------
const CB_L=1733,CB_R=1774,CB_H=225;
function drawColorbar(top,tip,name){
  const g=mk('g',svg,{});
  
  
  const cy=function(v){return top+(30-v)/60*CB_H;};
  const n=colorLevels.length;
  const mid=(CB_L+CB_R)/2;
  const up=mk('polygon',g,{points:CB_L+','+top+' '+mid+','+(top-tip)+' '+CB_R+','+top,fill:css(levelColor(n))});
  
  
  const dn=mk('polygon',g,{points:CB_L+','+(top+CB_H)+' '+mid+','+(top+CB_H+tip)+' '+CB_R+','+(top+CB_H),fill:css(levelColor(0))});
  
  
  for(let i=0;i<n-1;i++){
    const r=mk('rect',g,{x:CB_L,y:cy(colorLevels[i+1]),width:CB_R-CB_L,height:cy(colorLevels[i])-cy(colorLevels[i+1])+0.3,fill:css(levelColor(i+1))});
    
    
  }
  const o=mk('polygon',g,{points:[CB_L+','+top,mid+','+(top-tip),CB_R+','+top,CB_R+','+(top+CB_H),mid+','+(top+CB_H+tip),CB_L+','+(top+CB_H)].join(' '),fill:'none',stroke:'#000','stroke-width':'2'});
  
  
  colorbarTicks.forEach(function(v){
    const y=cy(v);
    const t=mk('line',g,{x1:CB_R,x2:CB_R+11,y1:y,y2:y,stroke:'#000','stroke-width':'1.8'});
    
    
    const lb=mk('text',g,{x:1790,y:y+9,'class':'cb'});
    
    
    lb.textContent=String(v).replace('-','\u2212');
  });
}
drawColorbar(154,19,'colorbar-faci');
drawColorbar(475.5,19,'colorbar-fari');

// ---------- BAR PANELS ----------
const BAR_TOP=778,BAR_BOTTOM=1141,BAR_W=512;
const yDomain=[-3.755,0.32];
const xDomain=[-0.6,3.6];
const barPanels=[
  {letter:'c',values:cesm2Erf,col:0,labels:true},
  {letter:'f',values:e3smErf,col:1,labels:false},
  {letter:'i',values:ukesmErf,col:2,labels:false}
];
const yScale=function(v){return BAR_BOTTOM-(v-yDomain[0])/(yDomain[1]-yDomain[0])*(BAR_BOTTOM-BAR_TOP);};
function xLabel(g,name,x,y){
  const t=mk('text',g,{'class':'xlab','text-anchor':'end',transform:'translate('+x+','+y+') rotate(-45)'});
  
  
  if(name.charAt(0)==='F'){
    t.appendChild(document.createTextNode('F'));
    const s=mk('tspan',t,{dy:'4','font-size':'19'});
    s.textContent=name.slice(1).toLowerCase()==='sw'?'SW':name.slice(1);
  } else {
    t.textContent=name;
  }
}
barPanels.forEach(function(p){
  const left=colLeft[p.col];
  const xScale=function(v){return left+(v-xDomain[0])/(xDomain[1]-xDomain[0])*BAR_W;};
  const g=mk('g',svg,{});
  
  
  const unit=xScale(1)-xScale(0);
  categories.forEach(function(cat,i){
    const v=p.values[i];
    const y0=yScale(0),y1=yScale(v);
    const r=mk('rect',g,{x:xScale(i-0.4),y:Math.min(y0,y1),width:unit*0.8,height:Math.abs(y1-y0),fill:barColors[i],stroke:'#111','stroke-width':'1.6'});
    
    
  });
  // grid
  categories.forEach(function(cat,i){
    const l=mk('line',g,{x1:xScale(i),x2:xScale(i),y1:BAR_TOP,y2:BAR_BOTTOM,stroke:'rgba(0,0,0,0.13)','stroke-width':'1.3'});
    
    
  });
  yTickValues.forEach(function(v){
    if(v===0) return;
    const l=mk('line',g,{x1:left,x2:left+BAR_W,y1:yScale(v),y2:yScale(v),stroke:'rgba(0,0,0,0.13)','stroke-width':'1.3'});
    
    
  });
  // zero line
  const z=mk('line',g,{x1:left,x2:left+BAR_W,y1:yScale(0),y2:yScale(0),stroke:'#000','stroke-width':'3.6'});
  
  
  // frame
  const f=mk('rect',g,{x:left,y:BAR_TOP,width:BAR_W,height:BAR_BOTTOM-BAR_TOP,fill:'none',stroke:'#000','stroke-width':'2'});
  
  
  // y ticks
  for(let k=-18;k<=1;k++){
    const v=k/5,major=(k%5===0);
    const t=mk('line',g,{x1:left-(major?11:6),x2:left,y1:yScale(v),y2:yScale(v),stroke:'#000','stroke-width':'1.6'});
    
    
  }
  if(p.labels){
    yTickValues.forEach(function(v){
      const lb=mk('text',g,{x:left-15,y:yScale(v)+9,'text-anchor':'end','class':'tick'});
      
      
      lb.textContent=String(v).replace('-','\u2212');
    });
  }
  // x ticks
  for(let k=-2;k<=17;k++){
    const v=k/5,major=(k%5===0);
    if(v<-0.4||v>3.4) continue;
    const t=mk('line',g,{x1:xScale(v),x2:xScale(v),y1:BAR_BOTTOM,y2:BAR_BOTTOM+(major?11:6),stroke:'#000','stroke-width':'1.6'});
    
    
  }
  categories.forEach(function(cat,i){
    xLabel(g,cat,xScale(i)-4,1175);
  });
});
</script>
</body>
</html>
